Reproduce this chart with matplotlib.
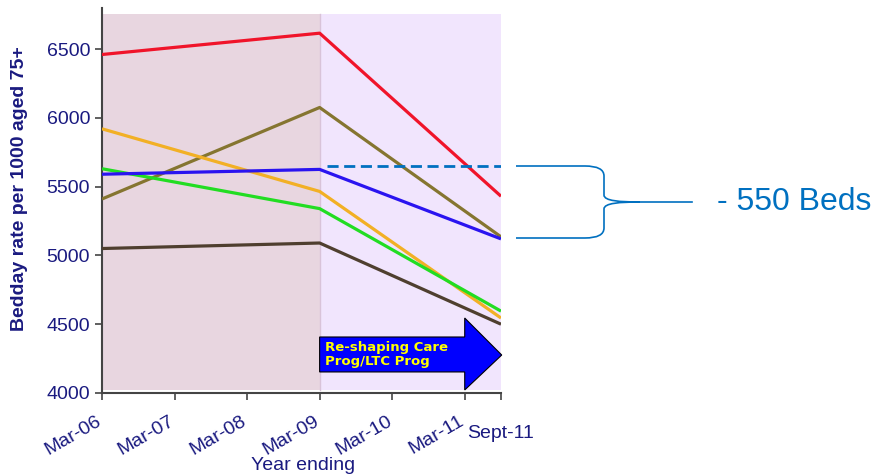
import matplotlib
matplotlib.use("Agg")
import matplotlib.pyplot as plt
import matplotlib.transforms as mtransforms
from matplotlib.path import Path
from matplotlib.patches import PathPatch, Polygon

plt.rcParams["font.family"] = ["Liberation Sans", "DejaVu Sans"]

#  Data 
tick_labels = ["Mar-06", "Mar-07", "Mar-08", "Mar-09", "Mar-10", "Mar-11", "Sept-11"]
tick_pos    = [0, 1, 2, 3, 4, 5, 5.5]
years       = [0, 3, 5.5]   # Mar-06, Mar-09, Sept-11

red    = [6460, 6615, 5430]
olive  = [5410, 6075, 5135]
orange = [5920, 5465, 4545]
green  = [5630, 5340, 4595]
blue   = [5590, 5625, 5120]
brown  = [5050, 5090, 4500]
target = 5650

NAVY = "#1a1a80"
BRACE = "#0070C0"

W, H = 877, 476
fig = plt.figure(figsize=(W / 100, H / 100), dpi=100)
ax = fig.add_axes([102 / W, 1 - 393 / H, 399 / W, 385 / H])
ax.set_xlim(0, 5.5)
ax.set_ylim(4000, 6798)

# background periods
ax.fill_between([0, 3], 4020, 6755, color="#e8d6e0", lw=0, zorder=0)
ax.fill_between([3, 5.5], 4020, 6755, color="#f1e5fd", lw=0, zorder=0)
ax.plot([3, 3], [4020, 6755], color="#d9c3d9", lw=1, zorder=1)

# series
for vals, c in [(red, "#f0142a"), (olive, "#857530"), (orange, "#f2b025"),
                (green, "#22dd22"), (brown, "#4f3f2f"), (blue, "#2a14f0")]:
    ax.plot(years, vals, color=c, lw=2.3, zorder=3, solid_capstyle="butt")

ax.plot([3.1, 5.5], [target, target], color=BRACE, lw=2, ls=(0, (4, 2)), zorder=3)

# programme arrow
arrow = Polygon([(3.0, 4153), (5.0, 4153), (5.0, 4022), (5.51, 4276),
                 (5.0, 4545), (5.0, 4407), (3.0, 4407)],
                closed=True, fc="#0000ff", ec="black", lw=0.8, zorder=4, clip_on=False)
ax.add_patch(arrow)
ax.text(3.07, 4280, "Re-shaping Care\nProg/LTC Prog", color="#ffff00", fontsize=9.5,
        fontweight="bold", family="DejaVu Sans", va="center", ha="left",
        linespacing=1.15, zorder=5)

# axes styling
for s in ["top", "right"]:
    ax.spines[s].set_visible(False)
for s in ["left", "bottom"]:
    ax.spines[s].set_color("#444444")
    ax.spines[s].set_linewidth(1.5)
ax.set_yticks([4000, 4500, 5000, 5500, 6000, 6500])
ax.tick_params(axis="y", colors="#444444", labelcolor=NAVY, labelsize=14, length=5, width=1.2)
ax.tick_params(axis="x", colors="#444444", labelcolor=NAVY, labelsize=14, length=5, width=1.2,
               pad=9)
ax.set_xticks(tick_pos)
ax.set_xticklabels(tick_labels[:-1] + [""])
shift = mtransforms.ScaledTranslation(-6 / 100, 0, fig.dpi_scale_trans)
for lab in ax.get_xticklabels():
    lab.set_rotation(30)
    lab.set_ha("right")
    lab.set_rotation_mode("anchor")
    lab.set_transform(lab.get_transform() + shift)
ax.text(tick_pos[-1], -0.105, tick_labels[-1], transform=ax.get_xaxis_transform(),
        color=NAVY, fontsize=14, ha="center", va="center")

ax.set_ylabel("Bedday rate per 1000 aged 75+", color=NAVY, fontsize=14, fontweight="bold")
ax.yaxis.set_label_coords(-0.185, 0.53)
fig.text(303 / W, 1 - 465 / H, "Year ending", color=NAVY, fontsize=14, ha="center", va="center")

# brace outside the axes (pixel coords)
def px(x, y):
    return (x / W, 1 - y / H)

verts = [px(516, 166), px(585, 166), px(604, 166), px(604, 176), px(604, 195),
         px(604, 201), px(620, 202), px(640, 202),
         px(620, 202), px(604, 203), px(604, 209), px(604, 228),
         px(604, 238), px(585, 238), px(516, 238)]
codes = [Path.MOVETO, Path.LINETO, Path.CURVE3, Path.CURVE3, Path.LINETO,
         Path.CURVE4, Path.CURVE4, Path.CURVE4,
         Path.CURVE4, Path.CURVE4, Path.CURVE4, Path.LINETO,
         Path.CURVE3, Path.CURVE3, Path.LINETO]
fig.patches.append(PathPatch(Path(verts, codes), fc="none", ec=BRACE, lw=1.2,
                             transform=fig.transFigure))
fig.lines.append(plt.Line2D([640 / W, 692 / W], [1 - 202 / H, 1 - 202 / H], color=BRACE,
                            lw=1.2, transform=fig.transFigure))
fig.text(717 / W, 1 - 202 / H, "- 550 Beds", color=BRACE, fontsize=23, va="center", ha="left")

fig.savefig("out.png", dpi=100)
